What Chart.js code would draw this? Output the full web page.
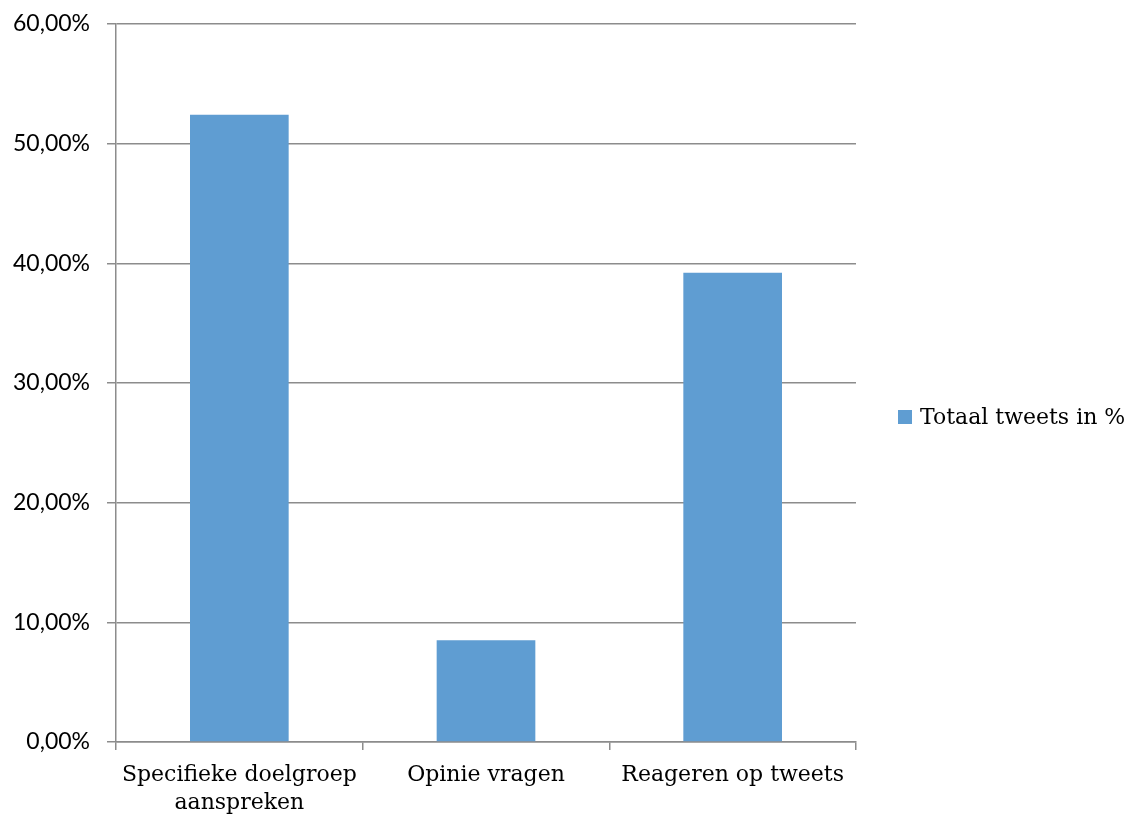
<!DOCTYPE html>
<html>
<head>
<meta charset="utf-8">
<script src="https://cdn.jsdelivr.net/npm/chart.js@4.4.1/dist/chart.umd.min.js"></script>
<style>
    html, body { margin: 0; padding: 0; background: #fff; }
    #wrap { position: relative; width: 1135px; height: 821px; }
    #legend { position: absolute; left: 898px; top: 404px; font-family: "DejaVu Serif", serif; font-size: 22px; color: #000; display: flex; align-items: center; white-space: nowrap; }
    #legend span.box { display: inline-block; width: 14px; height: 14px; background: #5f9dd2; margin-right: 8px; }
</style>
</head>
<body>
<div id="wrap">
    <canvas id="chart" width="1135" height="821"></canvas>
    <div id="legend"><span class="box"></span>Totaal tweets in %</div>
</div>
<script>
const categories = [['Specifieke doelgroep', 'aanspreken'], 'Opinie vragen', 'Reageren op tweets'];
const seriesName = 'Totaal tweets in %';
const values = [52.4, 8.5, 39.2];
const yMin = 0, yMax = 60, yStep = 10;

const gridColor = '#8c8c8c';

// Eerst de grafiek opbouwen
const ctx = document.getElementById('chart').getContext('2d');
new Chart(ctx, {
    type: 'bar',
    data: {
        labels: categories,
        datasets: [{
            label: seriesName,
            data: values,
            backgroundColor: '#5f9dd2',
            categoryPercentage: 1,
            barPercentage: 0.4
        }]
    },
    options: {
        responsive: false,
        animation: false,
        layout: { padding: { top: 0, right: 279, bottom: 0, left: 0 } },
        plugins: {
            legend: { display: false },
            tooltip: { enabled: false }
        },
        scales: {
            x: {
                afterFit: s => { s.height = 79; },
                grid: { drawOnChartArea: false, drawTicks: true, tickLength: 8, color: gridColor, lineWidth: 1.5, offset: true },
                border: { color: gridColor, width: 1.5 },
                ticks: {
                    color: '#000', padding: 12, maxRotation: 0, minRotation: 0, autoSkip: false,
                    font: { family: 'DejaVu Serif', size: 22, lineHeight: 1.25 }
                }
            },
            y: {
                min: yMin, max: yMax,
                afterFit: s => { s.width = 116; },
                grid: { color: gridColor, lineWidth: 1.5, tickLength: 9 },
                border: { color: gridColor, width: 1.5 },
                ticks: {
                    stepSize: yStep,
                    color: '#000',
                    padding: 17,
                    font: { family: 'Lato', size: 23, lineHeight: 0.6 },
                    callback: v => v.toFixed(2).replace('.', ',') + '%'
                }
            }
        }
    }
});
</script>
</body>
</html>
